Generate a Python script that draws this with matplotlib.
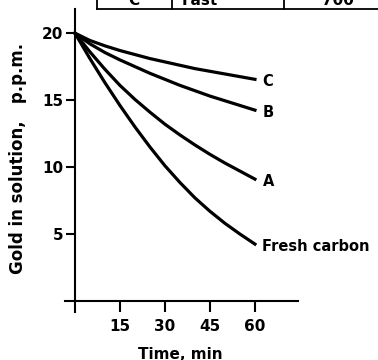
import numpy as np
import matplotlib
matplotlib.use("Agg")
import matplotlib.pyplot as plt
from matplotlib.lines import Line2D

# values (gold in solution, p.p.m.)
time_min = [0, 5, 10, 15, 20, 25, 30, 35, 40, 45, 50, 55, 60]
curve_c = [20, 19.45, 19.05, 18.7, 18.4, 18.1, 17.85, 17.6, 17.35, 17.15, 16.95, 16.75, 16.55]
curve_b = [20, 19.2, 18.55, 18.0, 17.5, 17.0, 16.55, 16.1, 15.7, 15.3, 14.95, 14.6, 14.25]
curve_a = [20, 18.6, 17.3, 16.1, 15.05, 14.1, 13.2, 12.4, 11.65, 10.95, 10.3, 9.7, 9.1]
fresh = [20, 18.1, 16.3, 14.6, 13.0, 11.5, 10.1, 8.85, 7.7, 6.7, 5.8, 5.0, 4.25]
series = [("C", curve_c), ("B", curve_b), ("A", curve_a), ("Fresh carbon", fresh)]

xticks = [15, 30, 45, 60]
yticks = [5, 10, 15, 20]

# cut-off table row above the chart
table_cells = ["C", "Fast", "700"]

plt.rcParams["font.family"] = ["DejaVu Sans"]
plt.rcParams["font.weight"] = "bold"

fig = plt.figure(figsize=(3.78, 3.6), dpi=100)
ax = fig.add_axes([0.172, 0.134, 0.616, 0.841])

for name, vals in series:
    ax.plot(time_min, vals, color="black", lw=2.3, solid_joinstyle="round")
    ax.text(time_min[-1] + 2.5, vals[-1] - 0.15, name, fontsize=10.5,
            fontweight="bold", va="center", ha="left")

ax.set_xlim(-3.3, 74.3)
ax.set_ylim(-0.8, 21.8)
ax.spines["left"].set_position(("data", 0))
ax.spines["bottom"].set_position(("data", 0))
ax.spines["top"].set_visible(False)
ax.spines["right"].set_visible(False)
for s in ("left", "bottom"):
    ax.spines[s].set_linewidth(1.5)

ax.set_xticks(xticks)
ax.set_yticks(yticks)
ax.tick_params(axis="x", direction="out", length=8, width=1.5, pad=5, labelsize=11)
ax.tick_params(axis="y", direction="out", length=6.5, width=1.5, pad=2, labelsize=11)
for lab in ax.get_xticklabels() + ax.get_yticklabels():
    lab.set_fontweight("bold")

fig.text(0.047, 0.561, "Gold in solution,   p.p.m.", rotation=90, ha="center",
         va="center", fontsize=12, fontweight="bold")
fig.text(0.478, 0.003, "Time, min", ha="center", va="baseline", fontsize=11,
         fontweight="bold")

# table fragment at the top edge
ty = 1 - 8.7 / 360
fig.add_artist(Line2D([97 / 378, 1.0], [ty, ty], color="black", lw=1.3))
for xp in (97, 172, 284):
    fig.add_artist(Line2D([xp / 378, xp / 378], [ty, 1.0], color="black", lw=1.3))
for xp, txt in zip((134, 200, 338), table_cells):
    fig.text(xp / 378, 1 - 5 / 360, txt, ha="center", va="baseline",
             fontsize=11, fontweight="bold")

fig.savefig("out.png", dpi=100)
